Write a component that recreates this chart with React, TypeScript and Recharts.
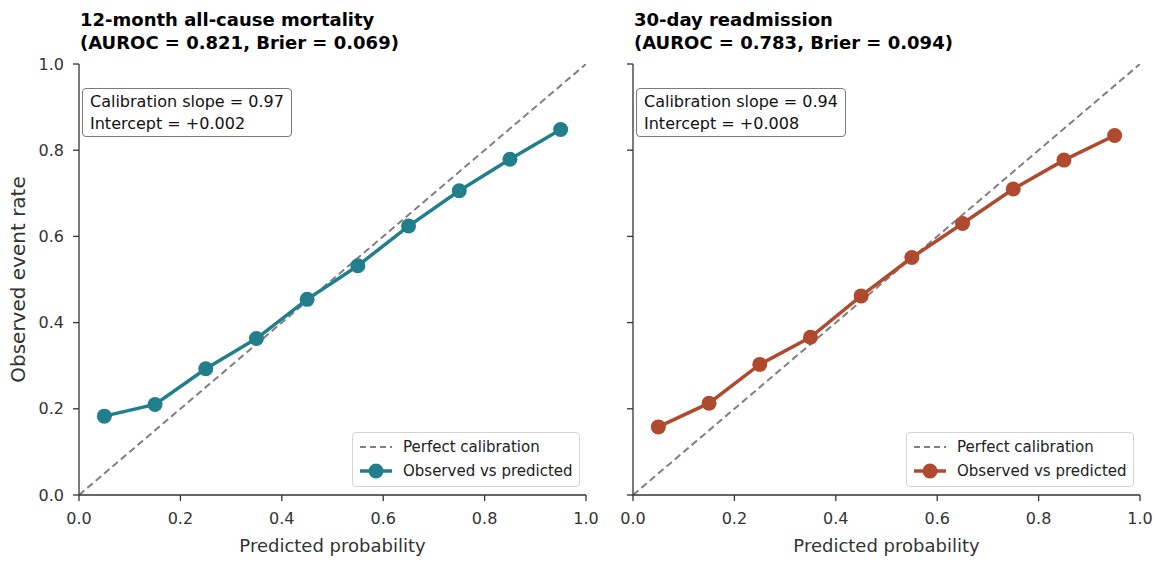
import { LineChart, Line, XAxis, YAxis, Legend } from 'recharts'

// bin centres and observed event rates per bin
const bins = [0.05, 0.15, 0.25, 0.35, 0.45, 0.55, 0.65, 0.75, 0.85, 0.95]
const mortalityObserved = [0.183, 0.21, 0.293, 0.363, 0.454, 0.532, 0.624, 0.706, 0.779, 0.848]
const readmissionObserved = [0.158, 0.213, 0.303, 0.366, 0.462, 0.551, 0.63, 0.71, 0.777, 0.834]
const perfectLine = [0, 1]
const axisTicks = [0, 0.2, 0.4, 0.6, 0.8, 1.0]

const FONT = '"DejaVu Sans", Verdana, sans-serif'
const INK = '#333333'
const DIAG = '#808080'
const HEIGHT = 561
const PLOT_TOP = 64
const X_BAND = 66

interface PanelProps {
  left: number
  width: number
  axisWidth: number
  rightGap: number
  showYLabels: boolean
  title: string
  subtitle: string
  color: string
  observed: number[]
  slope: string
  intercept: string
}

const LegendBox = ({ color }: { color: string }) => (
  <div
    style={{
      border: '1px solid #d4d4d4',
      borderRadius: 4,
      background: 'rgba(255,255,255,0.85)',
      padding: '2px 4px 3px 6px',
      fontFamily: FONT,
      fontSize: 15,
      color: '#222',
      whiteSpace: 'nowrap',
      boxSizing: 'border-box',
    }}
  >
    <div style={{ display: 'flex', alignItems: 'center', height: 24 }}>
      <svg width={34} height={16} style={{ marginRight: 10, flexShrink: 0 }}>
        <line x1={1} y1={8} x2={33} y2={8} stroke={DIAG} strokeWidth={2} strokeDasharray="6 4" />
      </svg>
      <span>Perfect calibration</span>
    </div>
    <div style={{ display: 'flex', alignItems: 'center', height: 24 }}>
      <svg width={34} height={16} style={{ marginRight: 10, flexShrink: 0 }}>
        <line x1={1} y1={8} x2={33} y2={8} stroke={color} strokeWidth={3.5} />
        <circle cx={17} cy={8} r={7.5} fill={color} />
      </svg>
      <span>Observed vs predicted</span>
    </div>
  </div>
)

function CalibrationPanel({
  left,
  width,
  axisWidth,
  rightGap,
  showYLabels,
  title,
  subtitle,
  color,
  observed,
  slope,
  intercept,
}: PanelProps) {
  const points = bins.map((x, i) => ({ x, y: observed[i] }))
  const diagonal = perfectLine.map((v) => ({ x: v, y: v }))
  const plotRight = width - rightGap
  const legendWidth = 228

  return (
    <div style={{ position: 'absolute', left, top: 0, width, height: HEIGHT }}>
      <div
        style={{
          position: 'absolute',
          left: axisWidth + 1,
          top: 8,
          fontFamily: FONT,
          fontWeight: 'bold',
          fontSize: 18,
          lineHeight: '23px',
          whiteSpace: 'nowrap',
          color: '#000',
        }}
      >
        {title}
        <br />
        {subtitle}
      </div>

      <LineChart
        width={width}
        height={HEIGHT}
        margin={{ top: PLOT_TOP, right: rightGap, bottom: 0, left: 0 }}
        style={{ fontFamily: FONT }}
      >
        <XAxis
          type="number"
          dataKey="x"
          domain={[0, 1]}
          ticks={axisTicks}
          allowDataOverflow
          height={X_BAND}
          tickFormatter={(v: number) => v.toFixed(1)}
          stroke={INK}
          strokeWidth={1.3}
          tickSize={6}
          tickMargin={12}
          tick={{ fill: INK, fontSize: 16 }}
          label={{
            value: 'Predicted probability',
            position: 'insideBottom',
            offset: 9,
            fill: INK,
            fontSize: 18,
          }}
        />
        <YAxis
          type="number"
          dataKey="y"
          domain={[0, 1]}
          ticks={axisTicks}
          allowDataOverflow
          width={axisWidth}
          tickFormatter={(v: number) => (showYLabels ? v.toFixed(1) : '')}
          stroke={INK}
          strokeWidth={1.3}
          tickSize={6}
          tickMargin={9}
          tick={{ fill: INK, fontSize: 16 }}
          label={
            showYLabels
              ? {
                  value: 'Observed event rate',
                  angle: -90,
                  position: 'insideLeft',
                  offset: 18,
                  fill: INK,
                  fontSize: 20,
                  style: { textAnchor: 'middle' },
                }
              : undefined
          }
        />
        <Legend
          layout="horizontal"
          verticalAlign="middle"
          align="center"
          content={() => <LegendBox color={color} />}
          wrapperStyle={{ left: plotRight - 6 - legendWidth, top: 432, width: legendWidth }}
        />
        <Line
          data={diagonal}
          dataKey="y"
          name="Perfect calibration"
          stroke={DIAG}
          strokeWidth={2}
          strokeDasharray="7 4"
          dot={false}
          activeDot={false}
          isAnimationActive={false}
        />
        <Line
          data={points}
          dataKey="y"
          name="Observed vs predicted"
          stroke={color}
          strokeWidth={3.5}
          dot={{ r: 7.5, fill: color, stroke: color, strokeWidth: 0 }}
          activeDot={false}
          isAnimationActive={false}
        />
      </LineChart>

      <div
        style={{
          position: 'absolute',
          left: axisWidth + 3,
          top: 88,
          border: '1.3px solid #7a7a7a',
          borderRadius: 4,
          background: '#fff',
          padding: '2px 7px 1px 7px',
          fontFamily: FONT,
          fontSize: 16,
          lineHeight: '22px',
          whiteSpace: 'nowrap',
          color: '#111',
        }}
      >
        Calibration slope = {slope}
        <br />
        Intercept = {intercept}
      </div>
    </div>
  )
}

export default function App() {
  return (
    <div
      style={{
        position: 'absolute',
        left: 0,
        top: 0,
        width: 1157,
        height: HEIGHT,
        background: '#fff',
      }}
    >
      <CalibrationPanel
        left={0}
        width={600}
        axisWidth={79}
        rightGap={14}
        showYLabels
        title="12-month all-cause mortality"
        subtitle="(AUROC = 0.821, Brier = 0.069)"
        color="#217f8c"
        observed={mortalityObserved}
        slope="0.97"
        intercept="+0.002"
      />
      <CalibrationPanel
        left={600}
        width={557}
        axisWidth={33}
        rightGap={17}
        showYLabels={false}
        title="30-day readmission"
        subtitle="(AUROC = 0.783, Brier = 0.094)"
        color="#b04a2f"
        observed={readmissionObserved}
        slope="0.94"
        intercept="+0.008"
      />
    </div>
  )
}
